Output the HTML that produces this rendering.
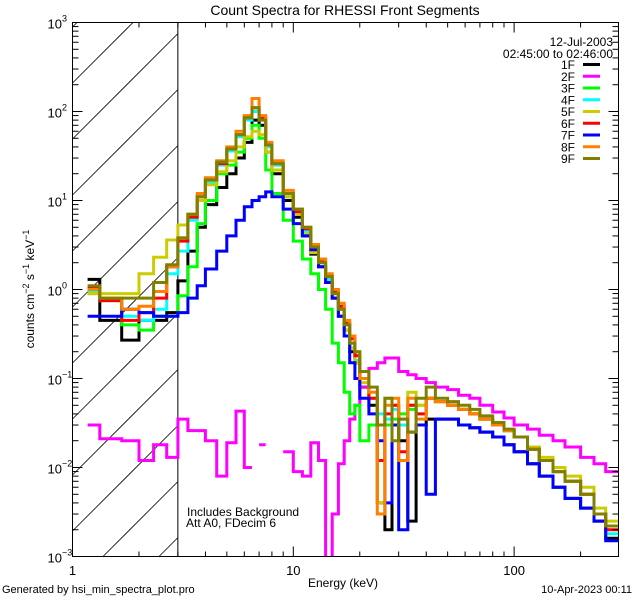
<!DOCTYPE html>
<html><head><meta charset="utf-8"><style>
html,body{margin:0;padding:0;background:#fff;width:640px;height:600px;overflow:hidden;}
svg{display:block;font-family:"Liberation Sans",sans-serif;}
</style></head><body>
<svg id="chart" width="640" height="600" viewBox="0 0 640 600">
<rect width="640" height="600" fill="#fff"/>
</svg>
<script>
const edges=[1.17,1.33,1.67,2,2.33,2.67,3,3.33,3.67,4,4.5,5,5.5,6,6.5,7,7.5,8,9,10,11,12,13,14,15,16,17,18,19,20,22,24,26,28,30,33,36,40,44,50,56,63,70,80,90,100,115,130,150,170,200,230,260,297];
const seriesNames=["1F","2F","3F","4F","5F","6F","7F","8F","9F"];
const s1F=[1.3,0.45,0.27,0.45,0.45,0.55,1.25,2.7,5,9, 14,20,30,45,80,70,35,20,10,6.5, 4,2.5,1.8,1.2,0.8,0.5,0.35,0.2,0.15,0.08, 0.05,0.004,0.002,0.03,0.02,0.0025,0.03,0.035,0.035,0.035, 0.03,0.028,0.025,0.022,0.018,0.015,0.011,0.008,0.006,0.0045, 0.0035,0.0025,0.0016];
const s2F=[0.03,0.021,0.02,0.012,0.018,0.013,0.035,0.026,0.026,0.02, 0.008,0.019,0.043,0.01,null,0.018,null,null,0.015,0.009, 0.008,0.019,0.012,0.0008,0.003,0.011,0.02,0.035,0.05,0.08, 0.13,0.15,0.17,0.17,0.12,0.11,0.1,0.09,0.08,0.075, 0.065,0.06,0.05,0.042,0.036,0.03,0.027,0.023,0.02,0.017, 0.013,0.011,0.009];
const s3F=[0.9,0.75,0.4,0.35,0.5,0.5,0.85,1.8,5.5,10, 20,25,35,50,70,50,22,12,6,3.5, 2.2,1.5,1.0,0.6,0.25,0.15,0.07,0.04,0.05,0.02, 0.03,0.012,0.03,0.035,0.04,0.045,0.05,0.06,0.055,0.05, 0.045,0.04,0.035,0.03,0.026,0.022,0.016,0.012,0.009,0.007, 0.005,0.003,0.0022];
const s4F=[0.95,0.75,0.5,0.45,0.6,1.5,2.7,6,10,16, 25,36,52,80,100,80,40,25,11,7, 4.5,2.8,2.0,1.3,0.9,0.6,0.4,0.25,0.16,0.1, 0.06,0.04,0.035,0.045,0.03,0.05,0.04,0.06,0.055,0.05, 0.045,0.04,0.035,0.03,0.026,0.022,0.016,0.012,0.009,0.007, 0.005,0.003,0.0018];
const s5F=[0.9,0.9,0.9,1.5,2.3,3.6,5.3,7,10,15, 21,28,40,52,60,55,35,22,11,7, 4.2,2.6,1.8,1.2,0.8,0.5,0.35,0.22,0.15,0.09, 0.06,0.004,0.06,0.05,0.035,0.07,0.05,0.06,0.055,0.05, 0.045,0.04,0.035,0.03,0.026,0.022,0.017,0.013,0.01,0.008, 0.006,0.0035,0.0025];
const s6F=[1.05,0.75,0.45,0.55,0.8,1.8,3.5,6.5,11,17, 26,38,55,85,110,85,42,26,12,7.5, 4.8,3.0,2.1,1.4,0.95,0.65,0.42,0.28,0.18,0.1, 0.06,0.012,0.04,0.05,0.015,0.05,0.04,0.06,0.055,0.05, 0.045,0.04,0.035,0.03,0.026,0.022,0.016,0.012,0.009,0.007, 0.005,0.003,0.002];
const s7F=[0.5,0.5,0.6,0.55,0.5,0.5,0.55,0.8,1.1,1.7, 2.7,4,6,8.5,10,11,12.5,11,8,5.5, 4,2.8,1.8,1.2,0.8,0.5,0.3,0.15,0.1,0.06, 0.04,0.02,0.004,0.03,0.002,0.025,0.03,0.005,0.035,0.035, 0.03,0.028,0.025,0.022,0.018,0.015,0.011,0.008,0.006,0.0045, 0.0035,0.0025,0.0015];
const s8F=[1.0,0.8,0.6,0.65,0.95,1.8,3.8,7,12,18, 28,40,60,90,140,90,45,28,13,8, 5,3.2,2.2,1.5,1.0,0.7,0.45,0.3,0.2,0.1, 0.07,0.003,0.05,0.06,0.012,0.06,0.035,0.06,0.055,0.05, 0.045,0.04,0.035,0.03,0.026,0.022,0.016,0.012,0.009,0.007, 0.005,0.003,0.0022];
const s9F=[1.1,0.8,0.8,0.8,1.2,1.9,3.8,7,11,17, 27,38,55,85,110,80,42,26,12,8, 5,3,2.0,1.4,0.9,0.6,0.4,0.25,0.2,0.12, 0.08,0.03,0.06,0.02,0.035,0.025,0.06,0.08,0.06,0.055, 0.05,0.045,0.038,0.032,0.027,0.022,0.016,0.012,0.009,0.007, 0.005,0.003,0.0022];
const xTickVals=[1,10,100];
const xTickLabels=["1","10","100"];
const yTickExps=[-3,-2,-1,0,1,2,3];

const NS="http://www.w3.org/2000/svg";
const svg=document.getElementById('chart');
const L=72.5,R=618.5,T=22.5,B=556.5;
const xMin=1,xMax=297;
const yMinE=-3,yMaxE=3;
function xs(e){return L+(R-L)*(Math.log10(e)-Math.log10(xMin))/(Math.log10(xMax)-Math.log10(xMin));}
function ys(v){return B-(B-T)*(Math.log10(v)-yMinE)/(yMaxE-yMinE);}
function mk(tag,attrs,parent){const el=document.createElementNS(NS,tag);for(const k in attrs)el.setAttribute(k,attrs[k]);(parent||svg).appendChild(el);return el;}
function txt(s,x,y,opts,parent){const t=mk('text',Object.assign({x:x,y:y,'font-size':12,fill:'#000'},opts||{}),parent);t.textContent=s;return t;}

const defs=mk('defs',{});
const cp=mk('clipPath',{id:'plotclip'},defs);
mk('rect',{x:L,y:T,width:R-L,height:B-T},cp);

// hatch: manually clipped diagonal lines (x+y = c) within [L,X3]x[T,B]
const X3=xs(3);
const hatch=mk('g',{});


for(let k=-12;k<14;k++){
  const c=L+83+56*k; // x+y=c
  let xa=Math.max(L,c-B), xb=Math.min(X3,c-T);
  if(xb-xa<0.5)continue;
  mk('line',{x1:xa,y1:c-xa,x2:xb,y2:c-xb,stroke:'#000','stroke-width':0.8},hatch);
}
const vl=mk('line',{x1:X3,y1:T,x2:X3,y2:B,stroke:'#000','stroke-width':1});



const colors=["#000000","#ff00ff","#00ff00","#00ffff","#cccc00","#ff0000","#0000ff","#ff8000","#808000"];
const allSeries=[s1F,s2F,s3F,s4F,s5F,s6F,s7F,s8F,s9F];
const plotG=mk('g',{'clip-path':'url(#plotclip)'});
allSeries.forEach((vals,si)=>{
  let d='';let pen=false;
  for(let i=0;i<vals.length;i++){
    const v=vals[i];
    if(v===null||v===undefined){pen=false;continue;}
    const x0=xs(edges[i]),x1=xs(edges[i+1]),y=Math.min(B+2,ys(v));
    d+=(pen?'L':'M')+x0.toFixed(1)+' '+y.toFixed(1)+'L'+x1.toFixed(1)+' '+y.toFixed(1);
    pen=true;
  }
  const p=mk('path',{d:d,fill:'none',stroke:colors[si],'stroke-width':3,'stroke-linejoin':'miter'},plotG);
  
  
});

const fr=mk('rect',{x:L,y:T,width:R-L,height:B-T,fill:'none',stroke:'#000','stroke-width':1});



const xax=mk('g',{});


for(let dec=1;dec<=100;dec*=10){for(let m=1;m<10;m++){const e=dec*m;if(e>xMax)break;const x=xs(e);const len=m===1?10:5;
  mk('line',{x1:x,y1:B,x2:x,y2:B-len,stroke:'#000'},xax);mk('line',{x1:x,y1:T,x2:x,y2:T+len,stroke:'#000'},xax);}}
xTickVals.forEach((v,i)=>{const t=txt(xTickLabels[i],xs(v),575,{'text-anchor':'middle','font-size':13},xax);
  
  });
const yax=mk('g',{});


for(let e=yMinE;e<yMaxE;e++){for(let m=1;m<10;m++){const y=ys(m*Math.pow(10,e));const len=m===1?10:6;
  mk('line',{x1:L,y1:y,x2:L+len,y2:y,stroke:'#000'},yax);mk('line',{x1:R,y1:y,x2:R-len,y2:y,stroke:'#000'},yax);}}
mk('line',{x1:L,y1:T,x2:L+10,y2:T,stroke:'#000'},yax);
yTickExps.forEach(e=>{const y=ys(Math.pow(10,e));
  const t=txt('10',62,y+6,{'text-anchor':'end','font-size':13},yax);
  
  
  const s=txt(String(e).replace('-','\u2212'),62,y-1,{'font-size':9},yax);
  
  });

function lab(s,x,y,o,name){const el=document.createElementNS(NS,'text');el.setAttribute('x',x);el.setAttribute('y',y);el.setAttribute('font-size',(o&&o.size)||12);if(o&&o.anchor)el.setAttribute('text-anchor',o.anchor);el.textContent=s;svg.appendChild(el);


return el;}
lab('Count Spectra for RHESSI Front Segments',345,15,{size:14,anchor:'middle'},'chart-title');
lab('12-Jul-2003',613,46,{anchor:'end'},'date-label');
lab('02:45:00 to 02:46:00',613,58,{anchor:'end'},'time-range-label');
seriesNames.forEach((n,i)=>{const y=64.5+11.75*i;
  const g=document.createElementNS(NS,'g');svg.appendChild(g);
  
  
  const tx=document.createElementNS(NS,'text');tx.setAttribute('x',575);tx.setAttribute('y',y+4.5);tx.setAttribute('font-size',12);tx.setAttribute('text-anchor','end');tx.textContent=n;g.appendChild(tx);
  const ln=document.createElementNS(NS,'line');ln.setAttribute('x1',583);ln.setAttribute('x2',600);ln.setAttribute('y1',y);ln.setAttribute('y2',y);ln.setAttribute('stroke',colors[i]);ln.setAttribute('stroke-width',3);g.appendChild(ln);
});
lab('Includes Background',187,516,{},'annotation-background');
lab('Att A0, FDecim 6',186,527,{},'annotation-attenuator');
lab('Energy (keV)',343,587,{anchor:'middle'},'x-axis-title');
lab('Generated by hsi_min_spectra_plot.pro',2,593,{size:11},'footer-generator');
lab('10-Apr-2023 00:11',632,593,{size:11,anchor:'end'},'footer-timestamp');
const yt=document.createElementNS(NS,'text');yt.setAttribute('transform','translate(34,289) rotate(-90)');yt.setAttribute('text-anchor','middle');yt.setAttribute('font-size',12);
yt.innerHTML='counts cm<tspan dy="-5" font-size="9">\u22122</tspan><tspan dy="5"> s</tspan><tspan dy="-5" font-size="9">\u22121</tspan><tspan dy="5"> keV</tspan><tspan dy="-5" font-size="9">\u22121</tspan>';
svg.appendChild(yt);


</script>
</body></html>
